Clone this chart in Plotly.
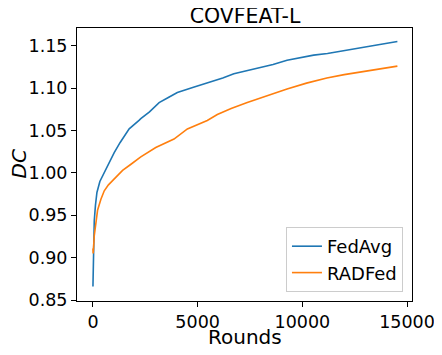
import plotly.graph_objects as go

# values
fedavg_rounds = [0, 20, 63, 120, 190, 330, 540, 760, 1015, 1300, 1650, 1730, 2200, 2285, 2700, 3160,
                 3600, 4030, 4800, 5620, 6200, 6730, 7400, 8000, 8600, 9270, 9900, 10540, 11200,
                 11970, 12800, 13560, 14540]
fedavg_dc = [0.866, 0.905, 0.944, 0.962, 0.977, 0.990, 1.001, 1.012, 1.024, 1.036, 1.048, 1.052,
             1.062, 1.064, 1.072, 1.083, 1.089, 1.095, 1.101, 1.107, 1.112, 1.117, 1.121, 1.124,
             1.128, 1.133, 1.136, 1.139, 1.141, 1.144, 1.148, 1.151, 1.155]

radfed_rounds = [0, 10, 63, 120, 220, 380, 540, 740, 940, 1415, 1800, 2285, 3000, 3870, 4510, 5460,
                 5940, 6600, 7370, 8300, 9270, 10200, 11170, 12000, 12760, 13600, 14540]
radfed_dc = [0.911, 0.905, 0.926, 0.940, 0.956, 0.969, 0.979, 0.986, 0.991, 1.003, 1.010, 1.019,
             1.030, 1.040, 1.052, 1.062, 1.069, 1.076, 1.083, 1.091, 1.099, 1.106, 1.112, 1.116,
             1.119, 1.122, 1.126]

fig = go.Figure()
fig.add_trace(go.Scatter(x=fedavg_rounds, y=fedavg_dc, mode="lines", name="FedAvg",
                         line=dict(color="#1f77b4", width=1.6)))
fig.add_trace(go.Scatter(x=radfed_rounds, y=radfed_dc, mode="lines", name="RADFed",
                         line=dict(color="#ff7f0e", width=1.6)))

axis_common = dict(showline=True, linecolor="black", linewidth=1, mirror=True, ticks="outside",
                   ticklen=5, tickcolor="black", showgrid=False, zeroline=False, automargin=False,
                   tickfont=dict(size=17.5, color="black"))

# page body adds an 8px margin, so the figure is 8px smaller than the window
W, H = 434, 347
L, R, T, B = 69, 30, 20, 54
plot_w, plot_h = W - L - R, H - T - B

fig.update_layout(
    width=W, height=H,
    margin=dict(l=L, r=R, t=T, b=B, pad=0),
    paper_bgcolor="white", plot_bgcolor="white",
    font=dict(family="DejaVu Sans", size=18, color="black"),
    title=dict(text="COVFEAT-L", x=237 / W, xanchor="center", y=1 - 8 / H,
               yanchor="middle", font=dict(size=20.5)),
    xaxis=dict(axis_common, range=[-762, 15238], tickvals=[0, 5000, 10000, 15000], tickformat="d"),
    yaxis=dict(axis_common, range=[0.849, 1.171], dtick=0.05, tick0=0.85, tickformat=".2f"),
    legend=dict(x=0.973, y=0.033, xanchor="right", yanchor="bottom", bgcolor="white",
                bordercolor="#cccccc", borderwidth=1, font=dict(size=18)),
)

fig.add_annotation(text="Rounds", xref="paper", yref="paper", x=0.5, y=-36 / plot_h,
                   xanchor="center", yanchor="middle", showarrow=False, font=dict(size=20))
fig.add_annotation(text="<i>DC</i>", xref="paper", yref="paper", x=-(L - 10) / plot_w, y=0.5,
                   xanchor="center", yanchor="middle", textangle=-90, showarrow=False,
                   font=dict(size=20))

fig.write_html("out.html")
